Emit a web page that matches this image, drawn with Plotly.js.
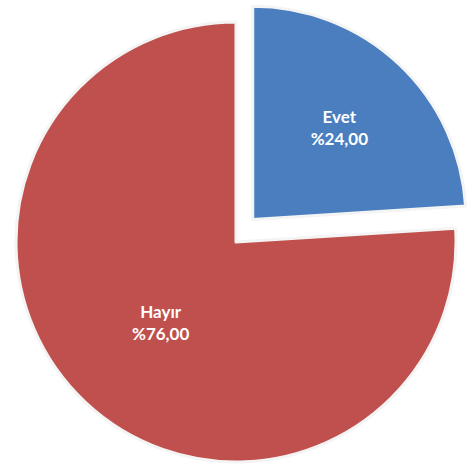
<!DOCTYPE html>
<html>
<head>
<meta charset="utf-8">
<script src="https://cdn.plot.ly/plotly-3.0.1.min.js"></script>
<style>html,body{margin:0;padding:0;background:#fff;}#chart{width:476px;height:464px;}</style>
</head>
<body>
<div id="chart"></div>
<script>
const categories = ['Evet', 'Hayır'];
const values = [24, 76];
const colors = ['#4A7EBF', '#C0504D'];

const total = values.reduce((a, b) => a + b, 0);
const labelText = categories.map((c, i) => c + '<br>%' + (values[i] / total * 100).toFixed(2).replace('.', ','));
const clear = 'rgba(0,0,0,0)';

function pieTrace(showIdx, domain) {
  return {
    type: 'pie',
    labels: categories,
    values: values,
    sort: false,
    direction: 'clockwise',
    rotation: 0,
    text: labelText.map((t, i) => i === showIdx ? t : ''),
    textinfo: 'text',
    textposition: 'inside',
    insidetextorientation: 'horizontal',
    insidetextfont: {family: 'Lato, "Open Sans", sans-serif', size: 17, color: '#ffffff', weight: 'bold'},
    marker: {
      colors: colors.map((c, i) => i === showIdx ? c : clear),
      line: {color: categories.map((c, i) => i === showIdx ? '#f4f4f4' : clear), width: 3}
    },
    hoverinfo: 'skip',
    showlegend: false,
    domain: domain
  };
}

const data = [
  pieTrace(1, {x: [0.0336, 0.958], y: [0.004, 0.953]}),
  pieTrace(0, {x: [0.083, 0.979], y: [0.067, 0.987]})
];

const layout = {
  width: 476, height: 464,
  margin: {l: 0, r: 0, t: 0, b: 0},
  paper_bgcolor: '#ffffff',
  plot_bgcolor: '#ffffff',
  showlegend: false
};

Plotly.newPlot('chart', data, layout, {displayModeBar: false, staticPlot: true});
</script>
</body>
</html>
